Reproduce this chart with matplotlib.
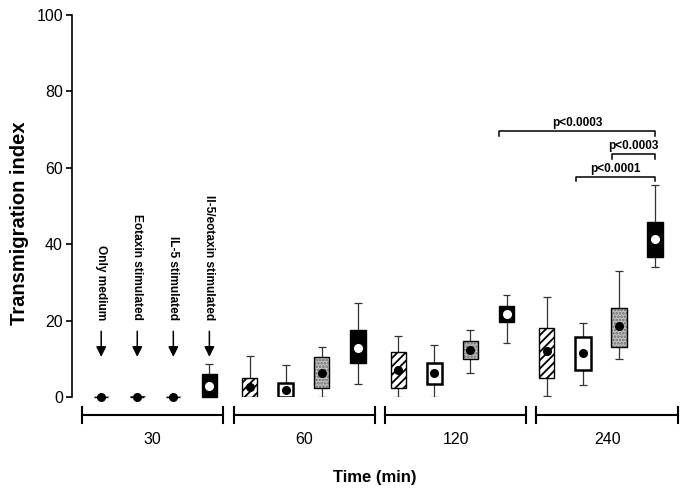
import matplotlib
matplotlib.use("Agg")
import matplotlib.pyplot as plt
from matplotlib import font_manager as fm
from matplotlib.patches import Rectangle

# keep the regular-width Liberation Sans only
fm.fontManager.ttflist = [f for f in fm.fontManager.ttflist if 'Narrow' not in f.fname]
plt.rcParams['font.family'] = ['Liberation Sans', 'DejaVu Sans']
plt.rcParams['hatch.linewidth'] = 1.3

# time points (min)
times = ["30", "60", "120", "240"]
conditions = ["Only medium", "Eotaxin stimulated", "IL-5 stimulated", "Il-5/eotaxin stimulated"]

# transmigration index per condition, one value per time point
medium_q1 = [0, 0, 2.3, 5.1]
medium_q3 = [0, 4.9, 11.9, 18.1]
medium_med = [0, 2.5, 7.1, 12.1]
medium_lo = [0, 0, 0.1, 0.3]
medium_hi = [0, 10.8, 16.0, 26.2]

eotaxin_q1 = [0, 0, 3.3, 7.1]
eotaxin_q3 = [0, 3.6, 8.8, 15.8]
eotaxin_med = [0, 1.8, 6.2, 11.4]
eotaxin_lo = [0, 0, 0.1, 3.1]
eotaxin_hi = [0, 8.4, 13.6, 19.3]

il5_q1 = [0, 2.4, 9.9, 13.2]
il5_q3 = [0, 10.4, 14.7, 23.4]
il5_med = [0, 6.4, 12.3, 18.6]
il5_lo = [0, 0.1, 6.2, 10.0]
il5_hi = [0, 13.1, 17.5, 33.1]

combo_q1 = [0, 8.8, 19.6, 36.7]
combo_q3 = [6.0, 17.5, 23.9, 45.7]
combo_med = [2.9, 12.9, 21.7, 41.3]
combo_lo = [0, 3.4, 14.0, 34.0]
combo_hi = [8.6, 24.5, 26.8, 55.5]

# comparisons: ((time idx, cond idx), (time idx, cond idx), label)
comparisons = [((2, 3), (3, 3), "p<0.0003"),
               ((3, 2), (3, 3), "p<0.0003"),
               ((3, 1), (3, 3), "p<0.0001")]
bracket_y = [69.5, 63.5, 57.5]

series = [
    (medium_q1, medium_q3, medium_med, medium_lo, medium_hi),
    (eotaxin_q1, eotaxin_q3, eotaxin_med, eotaxin_lo, eotaxin_hi),
    (il5_q1, il5_q3, il5_med, il5_lo, il5_hi),
    (combo_q1, combo_q3, combo_med, combo_lo, combo_hi),
]

def pos(g, i):
    return g * 4.12 + i + 0.81

fig = plt.figure(figsize=(6.85, 4.88), dpi=100)
ax = fig.add_axes([0.1051, 0.1865, 0.8949, 0.783])
ax.set_xlim(0, 17)
ax.set_ylim(0, 100)

bw = 0.42
cap = 0.11
for i, (q1, q3, med, lo, hi) in enumerate(series):
    for g in range(len(times)):
        x = pos(g, i)
        # whiskers
        if hi[g] > q3[g]:
            ax.vlines(x, q3[g], hi[g], color='#333333', lw=0.9, zorder=2)
            ax.hlines(hi[g], x - cap, x + cap, color='#333333', lw=0.9, zorder=2)
        if lo[g] < q1[g]:
            ax.vlines(x, lo[g], q1[g], color='#333333', lw=0.9, zorder=2)
            ax.hlines(lo[g], x - cap, x + cap, color='#333333', lw=0.9, zorder=2)
        h = q3[g] - q1[g]
        if i == 0:
            ax.add_patch(Rectangle((x - bw / 2, q1[g]), bw, h, facecolor='white',
                                   edgecolor='black', hatch='////', lw=1.0, zorder=3))
        elif i == 1:
            ax.add_patch(Rectangle((x - bw / 2, q1[g]), bw, h, facecolor='white',
                                   edgecolor='black', lw=1.8, zorder=3))
        elif i == 2:
            ax.add_patch(Rectangle((x - bw / 2, q1[g]), bw, h, facecolor='#c4c4c4',
                                   edgecolor='#6a6a6a', hatch='.....', lw=0, zorder=3))
            ax.add_patch(Rectangle((x - bw / 2, q1[g]), bw, h, facecolor='none',
                                   edgecolor='black', lw=1.0, zorder=3))
        else:
            ax.add_patch(Rectangle((x - bw / 2, q1[g]), bw, h, facecolor='black',
                                   edgecolor='black', lw=1.0, zorder=3, clip_on=False))
        if h == 0:
            ax.hlines(q1[g], x - bw / 2 + 0.02, x + bw / 2 - 0.02, color='black',
                      lw=1.0, zorder=3, clip_on=False)
        dot = 'white' if i == 3 else 'black'
        ax.plot(x, med[g], 'o', color=dot, ms=5.5, mec=dot, zorder=4, clip_on=False)

# condition labels + arrows over the 30 min group
for i, name in enumerate(conditions):
    x = pos(0, i)
    ax.text(x, 20.2, name, rotation=270, ha='center', va='bottom',
            fontsize=8.6, fontweight='bold')
    ax.annotate("", xy=(x, 10.5), xytext=(x, 17.2),
                arrowprops=dict(arrowstyle='-|>', color='black', lw=1.1,
                                mutation_scale=15, shrinkA=0, shrinkB=0))

# significance brackets
for (a, b, label), yb in zip(comparisons, bracket_y):
    x0 = pos(*a) - 0.2
    x1 = pos(*b)
    ax.plot([x0, x0, x1, x1], [yb - 1.1, yb, yb, yb - 1.1], color='black', lw=1.1)
    ax.text((x0 + x1) / 2, yb + 0.6, label, ha='center', va='bottom',
            fontsize=8.5, fontweight='bold')

# time brackets under the axis
for g, t in enumerate(times):
    s = g * 4.2 + 0.28
    e = g * 4.2 + 4.2
    ax.plot([s, e], [-4.6, -4.6], color='black', lw=1.5, clip_on=False)
    ax.plot([s, s], [-2.5, -6.8], color='black', lw=1.5, clip_on=False)
    ax.plot([e, e], [-2.5, -6.8], color='black', lw=1.5, clip_on=False)
    ax.text((s + e) / 2, -11, t, ha='center', va='center', fontsize=11.5)

for side in ['top', 'right', 'bottom']:
    ax.spines[side].set_visible(False)
ax.spines['left'].set_linewidth(1.2)
ax.set_xticks([])
ax.set_yticks([0, 20, 40, 60, 80, 100])
ax.tick_params(axis='y', labelsize=11.5, length=4, width=1.2, pad=2.5)

fig.text(0.029, 0.543, "Transmigration index", rotation=90, ha='center', va='center',
         fontsize=14.5, fontweight='bold')
fig.text(0.547, 0.0225, "Time (min)", ha='center', va='center',
         fontsize=12, fontweight='bold')

fig.savefig("out.png", dpi=100)
